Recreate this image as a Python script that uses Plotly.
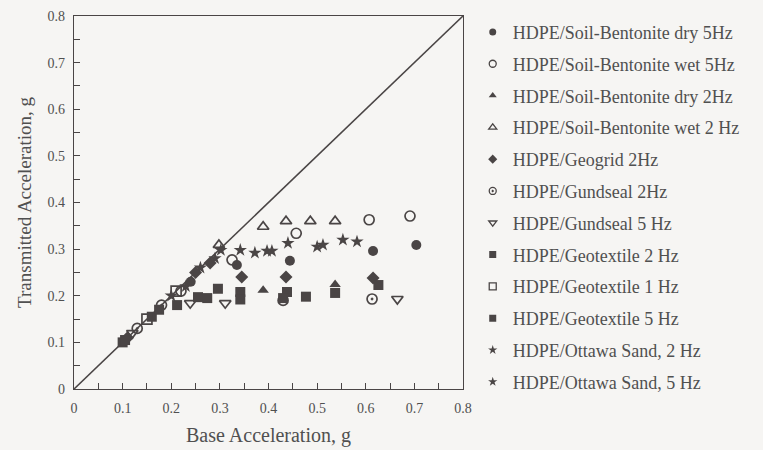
import plotly.graph_objects as go

# ---- data ----
series_names = [
    "HDPE/Soil-Bentonite dry 5Hz",
    "HDPE/Soil-Bentonite wet 5Hz",
    "HDPE/Soil-Bentonite dry 2Hz",
    "HDPE/Soil-Bentonite wet 2 Hz",
    "HDPE/Geogrid 2Hz",
    "HDPE/Gundseal 2Hz",
    "HDPE/Gundseal 5 Hz",
    "HDPE/Geotextile 2 Hz",
    "HDPE/Geotextile 1 Hz",
    "HDPE/Geotextile 5 Hz",
    "HDPE/Ottawa Sand, 2 Hz",
    "HDPE/Ottawa Sand, 5 Hz",
]

dry5_x = [0.24, 0.335, 0.444, 0.615, 0.704]
dry5_y = [0.23, 0.266, 0.275, 0.296, 0.309]

wet5_x = [0.22, 0.325, 0.457, 0.607, 0.691]
wet5_y = [0.21, 0.277, 0.334, 0.363, 0.371]

dry2_x = [0.389, 0.537]
dry2_y = [0.212, 0.224]

wet2_x = [0.298, 0.389, 0.436, 0.486, 0.537]
wet2_y = [0.309, 0.348, 0.36, 0.36, 0.36]

geogrid_x = [0.11, 0.25, 0.28, 0.345, 0.436, 0.615]
geogrid_y = [0.11, 0.25, 0.27, 0.24, 0.24, 0.238]

gund2_x = [0.13, 0.18, 0.43, 0.613]
gund2_y = [0.13, 0.18, 0.19, 0.193]

gund5_x = [0.12, 0.239, 0.311, 0.665]
gund5_y = [0.12, 0.184, 0.184, 0.193]

geot2_x = [0.1, 0.16, 0.212, 0.255, 0.296, 0.342, 0.438]
geot2_y = [0.1, 0.155, 0.18, 0.197, 0.215, 0.208, 0.208]

geot1_x = [0.15, 0.21]
geot1_y = [0.15, 0.21]

geot5_x = [0.105, 0.175, 0.274, 0.342, 0.43, 0.477, 0.537, 0.626]
geot5_y = [0.105, 0.17, 0.195, 0.192, 0.195, 0.198, 0.206, 0.223]

ott2_x = [0.2, 0.26, 0.302, 0.342, 0.372, 0.397, 0.44]
ott2_y = [0.2, 0.26, 0.298, 0.298, 0.292, 0.296, 0.313]

ott5_x = [0.23, 0.29, 0.407, 0.5, 0.512, 0.553, 0.582]
ott5_y = [0.22, 0.28, 0.296, 0.305, 0.309, 0.32, 0.316]

line_x = [0, 0.8]
line_y = [0, 0.8]

xs = [dry5_x, wet5_x, dry2_x, wet2_x, geogrid_x, gund2_x, gund5_x,
      geot2_x, geot1_x, geot5_x, ott2_x, ott5_x]
ys = [dry5_y, wet5_y, dry2_y, wet2_y, geogrid_y, gund2_y, gund5_y,
      geot2_y, geot1_y, geot5_y, ott2_y, ott5_y]
symbols = ["circle", "circle-open", "triangle-up", "triangle-up-open",
           "diamond", "circle-open-dot", "triangle-down-open",
           "square", "square-open", "square", "star", "star"]

INK = "#4a4545"
TXT = "#505050"
FONT = "Liberation Serif"

fig = go.Figure()
fig.add_trace(go.Scatter(x=line_x, y=line_y, mode="lines",
                         line=dict(color=INK, width=1.6),
                         showlegend=False, hoverinfo="skip"))

for i, (name, x, y, sym) in enumerate(zip(series_names, xs, ys, symbols)):
    lw = 1.7 if "open" in sym else 0
    fig.add_trace(go.Scatter(
        x=x, y=y, mode="markers", name=name, legendgroup=f"g{i}",
        showlegend=False,
        marker=dict(symbol=sym, size=10, color=INK, line=dict(color=INK, width=lw)),
    ))
    # small legend swatch
    fig.add_trace(go.Scatter(
        x=[None], y=[None], mode="markers", name=name, legendgroup=f"g{i}",
        marker=dict(symbol=sym, size=7, color=INK,
                    line=dict(color=INK, width=1.3 if lw else 0)),
    ))

axis_common = dict(
    range=[0, 0.8], dtick=0.1, tick0=0,
    ticks="inside", ticklen=6, tickwidth=1, tickcolor=INK,
    minor=dict(dtick=0.05, ticks="inside", ticklen=6, tickcolor=INK, tickwidth=1),
    showline=True, linecolor=INK, linewidth=1.4, mirror=True,
    showgrid=False, zeroline=False, automargin=False,
    tickfont=dict(family=FONT, size=14, color=TXT),
    tickformat="~g",
)

fig.update_xaxes(**axis_common, ticklabelstandoff=6,
                 title=dict(text="Base Acceleration, g",
                            font=dict(family=FONT, size=20, color=TXT), standoff=12))
fig.update_yaxes(**axis_common, ticklabelstandoff=5,
                 title=dict(text="Transmitted Acceleration, g",
                            font=dict(family=FONT, size=19, color=TXT), standoff=10))

fig.update_layout(
    width=763, height=450,
    margin=dict(l=74, r=300, t=16, b=61, autoexpand=False),
    paper_bgcolor="#f6f5f3", plot_bgcolor="#f6f5f3",
    font=dict(family=FONT, color=TXT),
    legend=dict(x=1.025, y=1.006, xanchor="left", yanchor="top",
                font=dict(family=FONT, size=18, color=TXT),
                tracegroupgap=5.4, itemsizing="trace", maxheight=440,
                bgcolor="rgba(0,0,0,0)"),
)

fig.write_html("out.html")
